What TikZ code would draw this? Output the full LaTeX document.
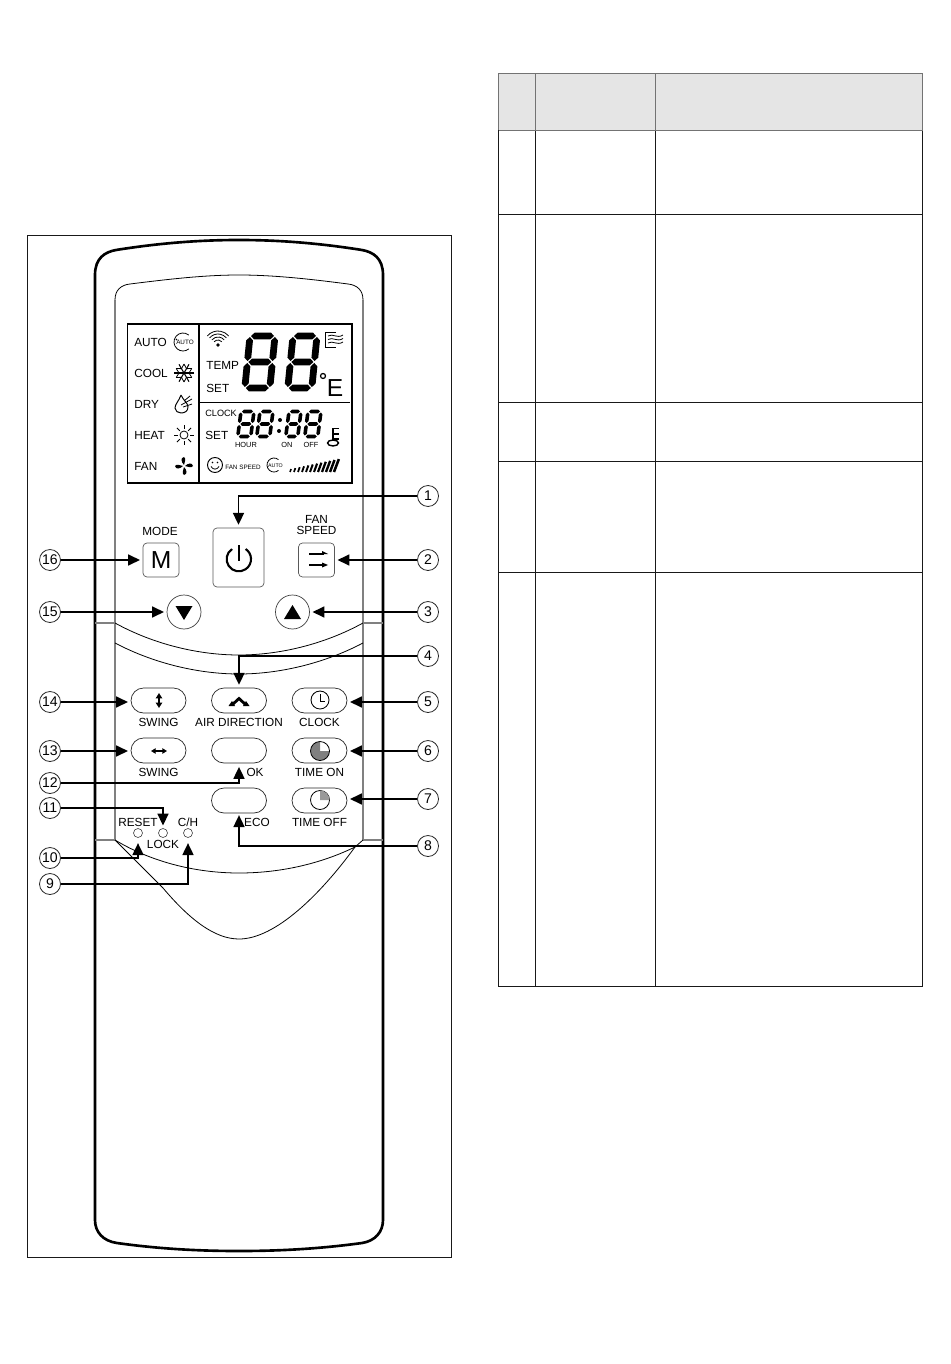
\documentclass[tikz,border=0pt]{standalone}
\usepackage{fontspec}
\setmainfont{Liberation Sans}
\usetikzlibrary{arrows.meta}

\tikzset{
    lbl/.style={inner sep=0pt,font=\fontsize{6.7}{6.8}\selectfont,align=center},
    lcdlbl/.style={lbl,anchor=west},
    tinylbl/.style={inner sep=0pt,font=\fontsize{3.6}{4}\selectfont},
    numcirc/.style={circle,draw=black!85,line width=0.45pt,minimum size=0.42cm,inner sep=0pt,font=\fontsize{8}{9}\selectfont},
    pillbtn/.style={rectangle,draw=black!85,line width=0.4pt,rounded corners=0.25cm,minimum width=1.1cm,minimum height=0.5cm,inner sep=0pt},
    squarebtn/.style={rectangle,draw=black!65,line width=0.4pt,rounded corners=0.08cm,inner sep=0pt},
    roundbtn/.style={circle,draw=black!75,line width=0.4pt,minimum size=0.68cm,inner sep=0pt},
    ledbtn/.style={circle,draw=black!75,line width=0.35pt,minimum size=0.18cm,inner sep=0pt},
    arrowline/.style={line width=1.1pt,black,-{Triangle[length=6.8pt,width=6.2pt]}},
    bodyline/.style={line width=1.5pt,black},
    panelline/.style={line width=0.75pt,black!50},
    thinline/.style={line width=0.45pt,black},
    iconline/.style={line width=0.45pt,black},
    tableline/.style={line width=0.55pt,black!90},
    headline/.style={line width=0.55pt,black!55},
}

% x y width height half-stroke slant
\newcommand{\sevenseg}[6]{
    \begin{scope}[shift={(#1,#2)},xslant=#6]
        \foreach \i in {0,0.5,1} {
            \fill ({1},{\i*#4}) -- ({1+#5},{\i*#4-#5}) -- ({#3-1-#5},{\i*#4-#5}) -- ({#3-1},{\i*#4})
                -- ({#3-1-#5},{\i*#4+#5}) -- ({1+#5},{\i*#4+#5}) -- cycle;
        }
        \foreach \i in {0,1} {
            \foreach \j in {0,0.5} {
                \fill ({\i*#3},{\j*#4+1}) -- ({\i*#3+#5},{\j*#4+1+#5}) -- ({\i*#3+#5},{(\j+0.5)*#4-1-#5}) -- ({\i*#3},{(\j+0.5)*#4-1})
                    -- ({\i*#3-#5},{(\j+0.5)*#4-1-#5}) -- ({\i*#3-#5},{\j*#4+1+#5}) -- cycle;
            }
        }
    \end{scope}
}

\begin{document}
\begin{tikzpicture}[x=0.02cm,y=-0.02cm]
    \useasboundingbox (0,0) rectangle (950,1364);

    % table
    \fill [black!10] (498.5,73.5) rectangle (922.5,130.5);
    \foreach \i in {498.5,535.5,655.5,922.5} {
        \draw [tableline] (\i,130.5) -- (\i,986.5);
        \draw [headline] (\i,73.5) -- (\i,130.5);
    }
    \foreach \j in {73.5,130.5} {
        \draw [headline] (498.5,\j) -- (922.5,\j);
    }
    \foreach \j in {214.5,402.5,461.5,572.5,986.5} {
        \draw [tableline] (498.5,\j) -- (922.5,\j);
    }

    % frame and body
    \draw [line width=0.55pt,black!90] (27.5,235.5) rectangle (451.5,1257.5);
    \draw [bodyline] (95,1220) -- (95,275) .. controls (95,258) and (105,252) .. (116,250)
        .. controls (160,243) and (200,240) .. (239,240) .. controls (278,240) and (318,243) .. (362,250)
        .. controls (373,252) and (383,258) .. (383,275) -- (383,1220)
        .. controls (383,1232) and (375,1241) .. (362,1243) .. controls (318,1249) and (278,1251) .. (239,1251)
        .. controls (200,1251) and (160,1249) .. (117,1243) .. controls (103,1241) and (95,1232) .. (95,1220) -- cycle;

    % inner panel
    \draw [panelline] (115,840) -- (115,300);
    \draw [panelline] (363,840) -- (363,300);
    \draw [thinline] (115,300) .. controls (115,290) and (121,285) .. (130,284)
        .. controls (170,279) and (205,275) .. (239,275) .. controls (273,275) and (310,279) .. (348,284)
        .. controls (357,285) and (363,290) .. (363,300);
    \foreach \i in {623,840} {
        \draw [panelline] (95,\i) -- (115,\i);
        \draw [panelline] (363,\i) -- (383,\i);
    }
    \draw [thinline] (115,623) .. controls (155,645) and (200,655) .. (239,655) .. controls (278,655) and (323,645) .. (363,623);
    \draw [thinline] (115,643) .. controls (155,664) and (200,674) .. (239,674) .. controls (278,674) and (323,664) .. (363,643);
    \draw [thinline] (115,840) .. controls (155,864) and (200,873) .. (239,873) .. controls (280,873) and (320,864) .. (355,847) -- (363,840);
    \draw [thinline] (115,840) -- (163,888) .. controls (190,920) and (215,939) .. (239,939) .. controls (275,939) and (320,895) .. (355,847);

    % display
    \draw [line width=0.75pt,black] (127.5,324) rectangle (352,483);
    \draw [line width=0.6pt,black] (199,324) -- (199,482);
    \draw [line width=0.6pt,black] (199,402.5) -- (350,402.5);
    \foreach \name/\txt/\x/\y in {auto/AUTO/134/342,cool/COOL/134/373,dry/DRY/134/404,heat/HEAT/134/435,fan/FAN/134/466,
        temp/TEMP/206/365,settemp/SET/206/388,setclock/SET/205/435} {
        \node [lcdlbl] (\name) at (\x,\y) {\txt};
    }
    \node [inner sep=0pt,anchor=west,font=\fontsize{5.2}{6}\selectfont] (clock) at (205,413) {CLOCK};
    \foreach \name/\txt/\x in {hour/HOUR/246,on/ON/287,off/OFF/311} {
        \node [inner sep=0pt,font=\fontsize{4.2}{5}\selectfont] (\name) at (\x,445) {\txt};
    }
    \node [inner sep=0pt,font=\fontsize{14}{14}\selectfont] (unit) at (335,388) {E};
    \draw [line width=0.7pt] (323,376) circle (2.5);
    \sevenseg{250}{336}{25}{52}{3.4}{0.1}
    \sevenseg{293}{336}{24}{52}{3.4}{0.1}
    \sevenseg{241}{411.5}{13}{25}{1.8}{0.13}
    \sevenseg{260}{411.5}{13}{25}{1.8}{0.13}
    \sevenseg{289}{411.5}{12}{25}{1.8}{0.13}
    \sevenseg{308}{411.5}{13}{25}{1.8}{0.13}
    \fill (280,420) circle (2);
    \fill (279,431) circle (2);

    % auto icon
    \draw [iconline] (183,342) ++(-50:9) arc (-50:-310:9);
    \node [tinylbl] (autoicon) at (185,342.5) {AUTO};
    \fill (176.5,339.5) circle (0.8);
    % snow
    \foreach \i in {0,60,120} {
        \begin{scope}[shift={(184,373)}]
            \draw [line width=0.6pt] (\i:10) -- (\i+180:10);
            \draw [iconline] (\i:5) -- (\i+30:9) (\i:5) -- (\i-30:9);
            \draw [iconline] (\i+180:5) -- (\i+210:9) (\i+180:5) -- (\i+150:9);
        \end{scope}
    }
    % drop
    \draw [line width=0.55pt] (181,395) .. controls (179,401) and (175,404) .. (175,408) .. controls (175,411) and (178,413) .. (181,413)
        .. controls (185,413) and (188,411) .. (188,407) .. controls (188,403) and (183,400) .. (181,395);
    \draw [iconline] (181,405) -- (192,399) (183,407) -- (192,404) (184,401) -- (190,396);
    % sun
    \draw [iconline] (184,435) circle (4);
    \foreach \i in {0,45,...,315} {
        \begin{scope}[shift={(184,435)}]
            \draw [iconline] (\i:6) -- (\i:10);
        \end{scope}
    }
    % fan
    \begin{scope}[shift={(184,466)}]
        \foreach \i in {0,90,180,270} {
            \fill (\i:1) .. controls (\i-35:5) and (\i-25:9) .. (\i:9) .. controls (\i+15:8) and (\i+15:4) .. (\i:1);
        }
    \end{scope}
    % wifi
    \fill (218,345) circle (1.8);
    \begin{scope}[shift={(218,345)}]
        \foreach \r in {5,8,11,14} {
            \draw [iconline] (220:\r) arc (220:320:\r);
        }
    \end{scope}
    % wind
    \draw [iconline] (336,332) -- (325,332) -- (325,347) -- (336,347);
    \foreach \j in {336,339.5,343} {
        \draw [iconline] (328,\j) .. controls (333,\j-3) and (337,\j+3) .. (343,\j-1);
    }
    % thermo
    \draw [line width=0.7pt] (339,428.5) -- (333,428.5) -- (333,441) (333,434) -- (339,434) (333,439) -- (339,439);
    \draw [line width=0.8pt] (333,443) ellipse [x radius=5.5,y radius=3];
    % smile
    \draw [line width=0.55pt] (215,465) circle (7.5);
    \fill (212.5,462.5) circle (0.9);
    \fill (217.5,462.5) circle (0.9);
    \draw [iconline] (211,466.5) .. controls (213,470) and (217,470) .. (219,466.5);
    \node [inner sep=0pt,font=\fontsize{3.6}{4}\selectfont] (fanspeed) at (243,467) {FAN SPEED};
    \draw [iconline] (274,465) ++(-50:7) arc (-50:-310:7);
    \node [inner sep=0pt,font=\fontsize{3}{3}\selectfont] (autosmall) at (275.5,465.5) {AUTO};
    \foreach \i in {0,...,11} {
        \draw [line width=0.9pt+\i*0.05pt] ({290+\i*4},472) -- ({290+\i*4+1+\i*0.35},{469-\i*0.9});
    }

    % buttons
    \node [squarebtn,minimum width=1.02cm,minimum height=1.18cm] (powerbtn) at (238.5,557.5) {};
    \node [squarebtn,minimum width=0.72cm,minimum height=0.68cm,font=\fontsize{14}{14}\selectfont] (modebtn) at (161,560) {M};
    \node [squarebtn,minimum width=0.72cm,minimum height=0.68cm] (fanbtn) at (316.5,560) {};
    \node [roundbtn] (downbtn) at (184,612) {};
    \node [roundbtn] (upbtn) at (292.5,612) {};
    \foreach \name/\x/\y in {swingvbtn/158.5/700.5,airbtn/239/700.5,clockbtn/319.5/700.5,
        swinghbtn/158.5/750.5,okbtn/239/750.5,timeonbtn/319.5/750.5,ecobtn/239/800.5,timeoffbtn/319.5/800.5} {
        \node [pillbtn] (\name) at (\x,\y) {};
    }
    \foreach \name/\x in {resetled/138,lockled/163,chled/188} {
        \node [ledbtn] (\name) at (\x,833) {};
    }

    % button icons
    \draw [line width=1.2pt] (239,545) -- (239,561);
    \draw [line width=1.2pt] (232,549) arc (-124:-416:12.2);
    \draw [line width=0.9pt] (309,554) -- (324,554);
    \draw [line width=0.9pt] (309,565) -- (324,565);
    \fill (328,554) -- (322,551) -- (322,554) -- cycle;
    \fill (328,565) -- (322,562.5) -- (322,567.5) -- cycle;
    \fill (175.5,606) -- (192.5,606) -- (184,620) -- cycle;
    \fill (284,619) -- (301,619) -- (292.5,605) -- cycle;
    \draw [line width=0.9pt,{Triangle[length=3pt,width=3.5pt]}-{Triangle[length=3pt,width=3.5pt]}] (159,693) -- (159,708);
    \draw [line width=0.7pt,{Triangle[length=2.6pt,width=3pt]}-{Triangle[length=2.6pt,width=3pt]}] (151,751) -- (167,751);
    \draw [line width=1.6pt] (232,705) -- (239,698.5) -- (246,705);
    \fill (228.5,706) -- (235,706) -- (232,701) -- cycle;
    \fill (249.5,706) -- (243,706) -- (246,701) -- cycle;
    \draw [line width=0.5pt] (320,700) circle (9);
    \draw [iconline] (320,694) -- (320,701) -- (325,701);
    \fill [black!50] (320,751) -- (320,741.5) arc (-90:-360:9.5) -- cycle;
    \draw [iconline] (320,751) ++(-90:9.5) arc (-90:-360:9.5);
    \draw [iconline] (320,741.5) arc (-90:0:9.5);
    \draw [iconline] (320,800) circle (9.5);
    \fill [black!40] (320,800) -- (320,790.5) arc (-90:0:9.5) -- cycle;

    % labels
    \node [lbl] (modelbl) at (160,531) {MODE};
    \node [lbl] (fanlbl) at (316.5,525) {FAN\\SPEED};
    \foreach \name/\txt/\x/\y in {swingvlbl/SWING/158.5/722,airlbl/AIR DIRECTION/239/722,clocklbl/CLOCK/319.5/722,
        swinghlbl/SWING/158.5/772,oklbl/OK/255/772,timeonlbl/TIME ON/319.5/772,
        resetlbl/RESET/138/822,chlbl/C\slash H/188/822,ecolbl/ECO/257/822,timeofflbl/TIME OFF/319.5/822,locklbl/LOCK/163/844} {
        \node [lbl] (\name) at (\x,\y) {\txt};
    }

    % numbers
    \foreach \i/\x/\y in {1/428/496,2/428/560,3/428/612,4/428/656,5/428/702,6/428/751,7/428/799,8/428/846,
        9/50/884,10/50/858,11/50/808,12/50/783,13/50/751,14/50/702,15/50/612,16/50/560} {
        \node [numcirc] (n\i) at (\x,\y) {\i};
    }
    \foreach \i/\b in {2/fanbtn.east,3/upbtn.east,5/clockbtn.east,6/timeonbtn.east,7/timeoffbtn.east,
        13/swinghbtn.west,14/swingvbtn.west,15/downbtn.west,16/modebtn.west} {
        \draw [arrowline,shorten >=1.5pt] (n\i) -- (n\i -| \b);
    }
    \foreach \i/\b/\s in {1/powerbtn.north/1.6pt,4/airbtn.north/1.6pt,8/ecobtn.south/1pt,12/okbtn.south/2pt,
        11/lockled.north/1.5pt,10/resetled.south/3pt,9/chled.south/3pt} {
        \draw [arrowline,shorten >=\s] (n\i) -| (\b);
    }
\end{tikzpicture}
\end{document}
